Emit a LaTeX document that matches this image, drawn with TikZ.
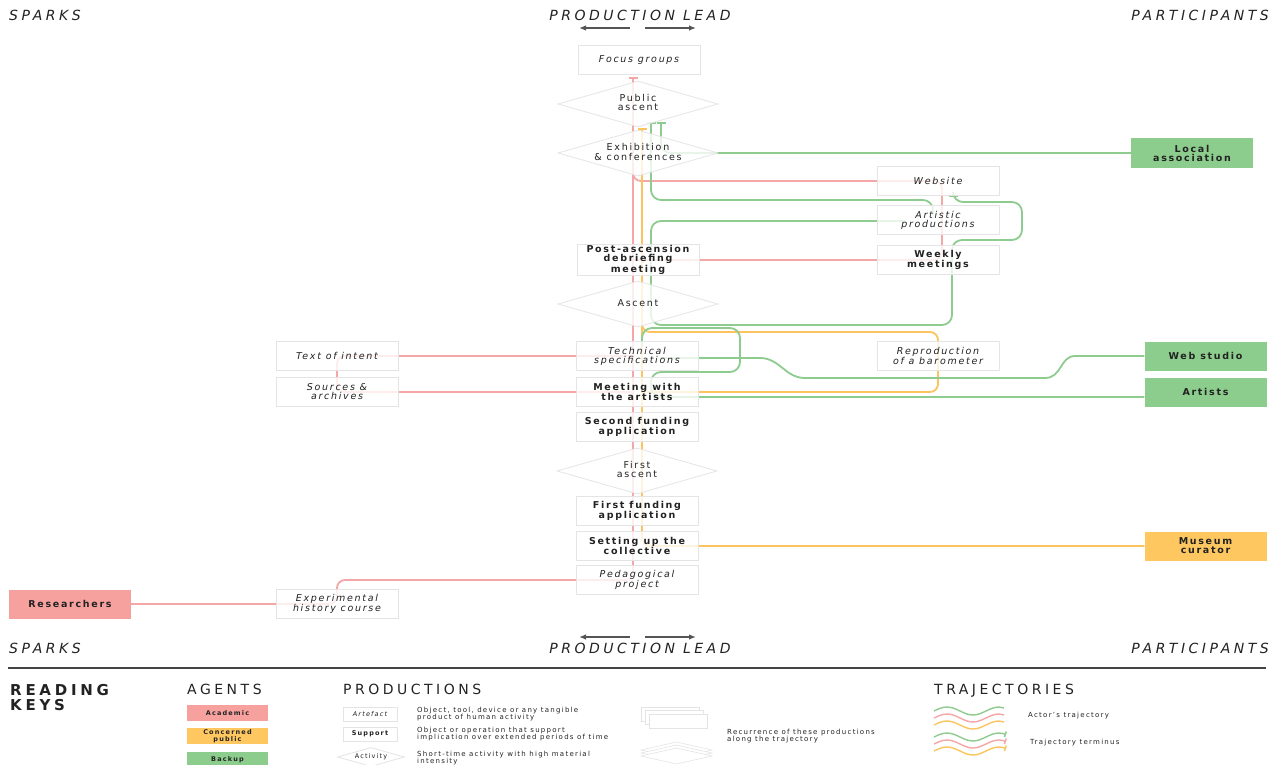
\documentclass[tikz,border=0pt]{standalone}
\usepackage{fontspec}
\setmainfont{DejaVu Sans}[LetterSpace=18]
\newfontfamily\headfont{DejaVu Sans}[LetterSpace=25]
\usetikzlibrary{shapes.geometric,arrows.meta,backgrounds}
\definecolor{academic}{RGB}{247,161,159}
\definecolor{academicline}{RGB}{245,166,166}
\definecolor{concerned}{RGB}{254,199,96}
\definecolor{concernedline}{RGB}{252,196,94}
\definecolor{backup}{RGB}{140,204,140}
\definecolor{backupline}{RGB}{141,203,142}
\definecolor{boxline}{RGB}{228,228,228}
\definecolor{ink}{RGB}{34,34,34}
\definecolor{leadgray}{RGB}{85,85,85}
\newcommand{\acttext}[1]{\makebox[0pt]{\begin{tabular}{@{}c@{}}#1\end{tabular}}}
\begin{document}
\begin{tikzpicture}[x=1pt,y=-1pt,
	artefact/.style={draw=boxline,line width=0.8pt,fill=white,fill opacity=0.8,text opacity=1,minimum width=122pt,minimum height=29pt,inner sep=1pt,align=center,text=ink,font={\fontsize{9.5}{9}\selectfont\itshape}},
	support/.style={artefact,font={\fontsize{9.5}{9}\selectfont\bfseries}},
	activity/.style={diamond,draw=boxline,line width=0.8pt,fill=white,fill opacity=0.8,text opacity=1,minimum width=160pt,minimum height=46pt,inner sep=0pt,text=ink,font={\fontsize{9.5}{9}\selectfont}},
	agent/.style={minimum width=122pt,minimum height=29pt,inner sep=1pt,align=center,text=ink,font={\fontsize{9.5}{9}\selectfont\bfseries}},
	academicpath/.style={draw=academicline,line width=1.8pt,rounded corners=8pt},
	concernedpath/.style={draw=concernedline,line width=1.8pt,rounded corners=8pt},
	backuppath/.style={draw=backupline,line width=1.8pt,rounded corners=10pt},
	terminus/.style={-{Bar[width=9pt]}},
	leadhead/.style={inner sep=0pt,text=ink,font={\headfont\fontsize{14}{14}\selectfont\itshape}},
	leadarrow/.style={draw=leadgray,line width=1.3pt,-{Latex[length=7pt,width=5.5pt]}},
	keyhead/.style={inner sep=0pt,text=ink,font={\headfont\fontsize{14}{14}\selectfont}},
	keyagent/.style={minimum width=81pt,minimum height=16pt,inner sep=0.5pt,align=center,text=ink,font={\fontsize{6.5}{6.5}\selectfont\bfseries}},
	keyprod/.style={draw=boxline,line width=0.6pt,fill=white,minimum width=54pt,minimum height=14pt,inner sep=0pt,text=ink,font={\fontsize{6.5}{6.5}\selectfont\itshape}},
	keytext/.style={anchor=west,inner sep=0pt,align=left,text=ink,font={\fontsize{7}{6.8}\selectfont}},
	wave/.style={line width=1.4pt}]
	\useasboundingbox (0,0) rectangle (1274,765);

	% headings, top and bottom
	\node[leadhead,anchor=base west] (sparkstop) at (9,21) {SPARKS};
	\node[leadhead,anchor=base] (leadtop) at (640,21) {PRODUCTION LEAD};
	\node[leadhead,anchor=base east] (participantstop) at (1269,21) {PARTICIPANTS};
	\node[leadhead,anchor=base west] (sparksbottom) at (9,653) {SPARKS};
	\node[leadhead,anchor=base] (leadbottom) at (640,653) {PRODUCTION LEAD};
	\node[leadhead,anchor=base east] (participantsbottom) at (1269,653) {PARTICIPANTS};
	\coordinate (topleftA) at (630,28); \coordinate (topleftB) at (579,28);
	\coordinate (toprightA) at (645,28); \coordinate (toprightB) at (696,28);
	\coordinate (botleftA) at (630,637); \coordinate (botleftB) at (579,637);
	\coordinate (botrightA) at (645,637); \coordinate (botrightB) at (696,637);
	\draw[leadarrow] (topleftA) -- (topleftB);
	\draw[leadarrow] (toprightA) -- (toprightB);
	\draw[leadarrow] (botleftA) -- (botleftB);
	\draw[leadarrow] (botrightA) -- (botrightB);

	% production lead column
	\node[artefact] (focus) at (639,60) {Focus groups};
	\node[activity] (public) at (638,104) {\acttext{Public\\ascent}};
	\node[activity] (exhibition) at (638,153) {\acttext{Exhibition\\\& conferences}};
	\node[support] (debrief) at (638,260) {Post-ascension\\debriefing\\meeting};
	\node[activity] (ascent) at (638,304) {\acttext{Ascent}};
	\node[artefact] (techspec) at (637,356) {Technical\\specifications};
	\node[support] (meeting) at (637,392) {Meeting with\\the artists};
	\node[support] (secondfund) at (637,427) {Second funding\\application};
	\node[activity] (firstascent) at (637,471) {\acttext{First\\ascent}};
	\node[support] (firstfund) at (637,511) {First funding\\application};
	\node[support] (collective) at (637,546) {Setting up the\\collective};
	\node[artefact] (pedagogical) at (637,580) {Pedagogical\\project};

	% right column
	\node[artefact] (website) at (938,181) {Website};
	\node[artefact] (artistic) at (938,220) {Artistic\\productions};
	\node[support] (weekly) at (938,260) {Weekly\\meetings};
	\node[artefact] (barometer) at (938,356) {Reproduction\\of a barometer};

	% left column
	\node[artefact] (intent) at (337,356) {Text of intent};
	\node[artefact] (sources) at (337,392) {Sources \&\\archives};
	\node[artefact] (experimental) at (337,604) {Experimental\\history course};

	% agents
	\node[agent,fill=academic] (researchers) at (70,604) {Researchers};
	\node[agent,fill=backup] (local) at (1192,153) {Local\\association};
	\node[agent,fill=backup] (webstudio) at (1205.5,356) {Web studio};
	\node[agent,fill=backup] (artists) at (1205.5,392) {Artists};
	\node[agent,fill=concerned] (museum) at (1205.5,546) {Museum\\curator};

	% trajectories
	\begin{scope}[on background layer]
		\draw[academicpath,terminus] (researchers.east) -- (337,604) -- (337,580) -- (633,580) -- (633,77);
		\draw[academicpath] (633,356) -- (337,356) -- (337,392) -- (633,392);
		\draw[academicpath] (633,260) -- (942,260) -- (942,181) -- (633,181) -- (633,168);
		\draw[concernedpath,terminus] (museum.west) -- (642,546) -- (642,128);
		\draw[concernedpath] (642,316) -- (642,332) -- (938,332) -- (938,392) -- (642,392);
		\draw[backuppath,terminus] (local.west) -- (661,153) -- (661,122);
		\draw[backuppath,terminus] (933,214) -- (933,200) -- (651,200) -- (651,122);
		\draw[backuppath,terminus] (905,221) -- (651,221) -- (651,325) -- (952,325) -- (952,240) -- (1022,240) -- (1022,202) -- (953,202) -- (953,197);
		\draw[backuppath] (webstudio.west) -- (1085,356) .. controls (1060,356) and (1062,378) .. (1035,378) -- (815,378) .. controls (785,378) and (780,358) .. (750,358) -- (660,358);
		\draw[backuppath] ([yshift=-5pt]artists.west) -- (651,397) -- (651,372) -- (740,372) -- (740,328) -- (642,328) -- (642,346);
	\end{scope}

	% reading keys
	\draw[ink!85,line width=1.3pt] (8,668) -- (1266,668);
	\node[inner sep=0pt,anchor=north west,align=left,text=ink,font={\headfont\fontsize{15}{15.5}\selectfont\bfseries}] (readingkeys) at (10,684) {READING\\KEYS};
	\node[keyhead,anchor=base west] (agentskey) at (187,694) {AGENTS};
	\node[keyagent,fill=academic] (academickey) at (227.5,713) {Academic};
	\node[keyagent,fill=concerned] (concernedkey) at (227.5,736) {Concerned\\public};
	\node[keyagent,fill=backup] (backupkey) at (227.5,759.5) {Backup};
	\node[keyhead,anchor=base west] (productionskey) at (343,694) {PRODUCTIONS};
	\node[keyprod] (artefactkey) at (370,714) {Artefact};
	\node[keyprod,font={\fontsize{6.5}{6.5}\selectfont\bfseries}] (supportkey) at (370,734) {Support};
	\node[activity,minimum width=67pt,minimum height=19pt,fill opacity=1,font={\fontsize{6.5}{6.5}\selectfont}] (activitykey) at (371,757) {\acttext{Activity}};
	\node[keytext] (artefacttext) at (417,714) {Object, tool, device or any tangible\\product of human activity};
	\node[keytext] (supporttext) at (417,734) {Object or operation that support\\implication over extended periods of time};
	\node[keytext] (activitytext) at (417,758) {Short-time activity with high material\\intensity};
	\foreach \d in {0,1,2}
		\draw[boxline,line width=0.6pt,fill=white] (641+4*\d,707+3.5*\d) rectangle ++(58,14);
	\foreach \d in {0,1,2}
		\draw[boxline,line width=0.6pt,fill=white] (641,750+3*\d) -- (676.5,742+3*\d) -- (712,750+3*\d) -- (676.5,758+3*\d) -- cycle;
	\node[keytext] (recurrencetext) at (727,736) {Recurrence of these productions\\along the trajectory};
	\node[keyhead,anchor=base west] (trajectorieskey) at (934,694) {TRAJECTORIES};
	\foreach \c/\o in {backupline/0,academicline/7,concernedline/14} {
		\draw[wave,\c] (934,711+\o) sin ++(13,-4) cos ++(13,4) sin ++(13,4) cos ++(13,-4) sin ++(13,-4) cos ++(5,1);
		\draw[wave,\c,-{Bar[width=6pt]}] (934,737+\o) sin ++(13,-4) cos ++(13,4) sin ++(13,4) cos ++(13,-4) sin ++(13,-4) cos ++(7,1.5);
	}
	\node[keytext] (actortext) at (1028,716) {Actor's trajectory};
	\node[keytext] (terminustext) at (1030,743) {Trajectory terminus};
\end{tikzpicture}
\end{document}
